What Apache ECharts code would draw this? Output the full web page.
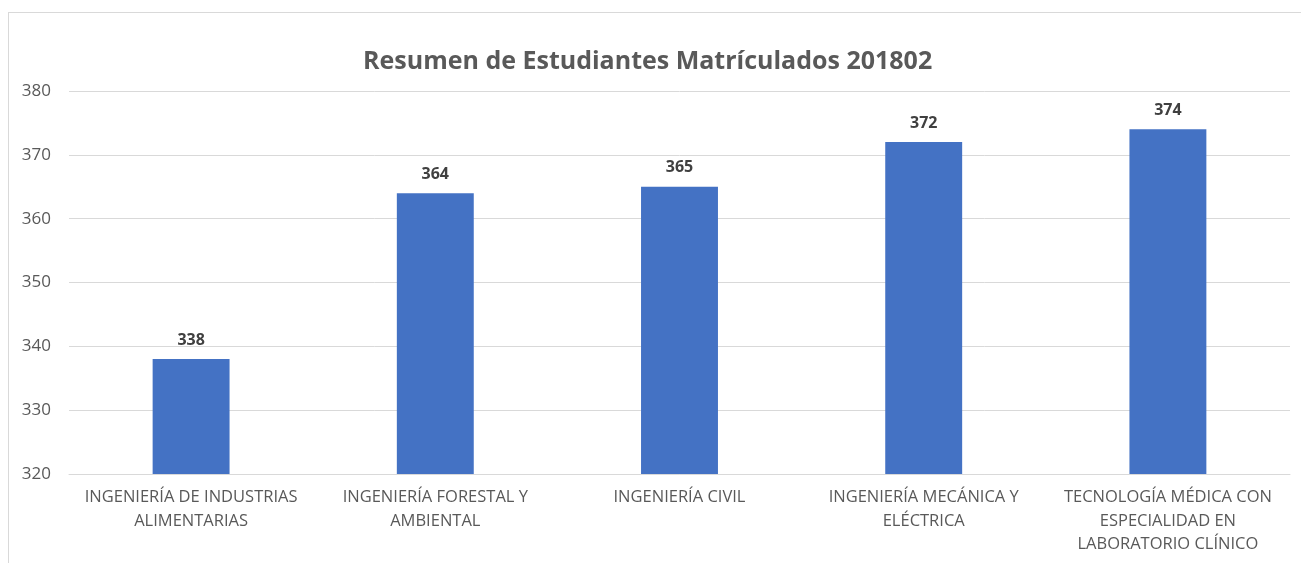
<!DOCTYPE html>
<html>
<head>
<meta charset="utf-8">
<script src="https://cdn.jsdelivr.net/npm/echarts@6/dist/echarts.min.js"></script>
<style>
  html, body { margin: 0; padding: 0; background: #fff; }
  #frame {
    position: absolute; left: 8px; top: 12px; width: 1300px; height: 560px;
    border: 1px solid #d9d9d9; box-sizing: border-box;
  }
  #main { position: absolute; left: 0; top: 0; width: 1301px; height: 563px; }
</style>
</head>
<body>
<div id="frame"></div>
<div id="main"></div>
<script>
// carreras (saltos de línea como en el gráfico original)
const carreras = [
  "INGENIERÍA DE INDUSTRIAS\nALIMENTARIAS",
  "INGENIERÍA FORESTAL Y\nAMBIENTAL",
  "INGENIERÍA CIVIL",
  "INGENIERÍA MECÁNICA Y\nELÉCTRICA",
  "TECNOLOGÍA MÉDICA CON\nESPECIALIDAD EN\nLABORATORIO CLÍNICO"
];
const matriculados = [338, 364, 365, 372, 374];
const ejeMin = 320;
const ejeMax = 380;
const ejePaso = 10;

var chartDom = document.getElementById("main");
var myChart = echarts.init(chartDom);
var fuente = "'Open Sans', 'Liberation Sans', sans-serif";

var option = {
  animation: false,
  title: {
    text: "Resumen de Estudiantes Matrículados 201802",
    left: 358,
    top: 44,
    textStyle: { fontFamily: fuente, fontSize: 25, fontWeight: "bold", color: "#595959" },
  },
  grid: { left: 69, right: 11, top: 91, bottom: 89 },
  xAxis: {
    type: "category",
    data: carreras,
    axisTick: { show: false },
    axisLine: { lineStyle: { color: "#d9d9d9" } },
    axisLabel: {
      interval: 0,
      margin: 12,
      lineHeight: 23.5,
      fontFamily: fuente,
      fontSize: 16.5,
      color: "#595959",
    },
  },
  yAxis: {
    type: "value",
    min: ejeMin,
    max: ejeMax,
    interval: ejePaso,
    axisLine: { show: false },
    axisTick: { show: false },
    splitLine: { lineStyle: { color: "#d9d9d9" } },
    axisLabel: { margin: 18, fontFamily: fuente, fontSize: 17, color: "#595959" },
  },
  series: [
    {
      name: "Matriculados",
      type: "bar",
      data: matriculados,
      barWidth: "31.5%",
      itemStyle: { color: "#4472c4" },
      label: {
        show: true,
        position: "top",
        distance: 11,
        fontFamily: fuente,
        fontSize: 16,
        fontWeight: "bold",
        color: "#404040",
      },
    },
  ],
};
option && myChart.setOption(option);
</script>
</body>
</html>
